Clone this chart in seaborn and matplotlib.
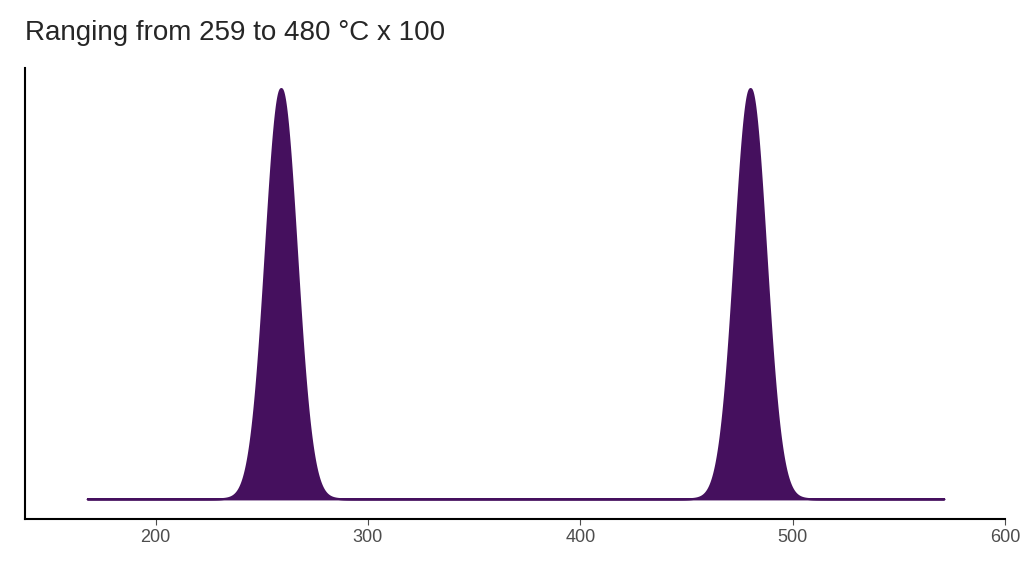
import matplotlib
matplotlib.use("Agg")
import matplotlib.pyplot as plt
import seaborn as sns
import numpy as np

values = [259, 480]
repeats = 100
title = "Ranging from 259 to 480 °C x 100"
xticks = [200, 300, 400, 500, 600]

data = np.repeat(values, repeats)
sns.set_style("white")
plt.rcParams['font.family'] = ['Liberation Sans', 'DejaVu Sans']
fig = plt.figure(figsize=(10.24, 5.76), dpi=100)
ax = fig.add_axes([25/1024, 57/576, 980/1024, (519-68)/576])
color = "#45105e"
sns.kdeplot(x=data, bw_adjust=0.19, cut=12.5, fill=True, color=color, alpha=1, linewidth=1.5, ax=ax, gridsize=2000)
ymax = ax.dataLim.ymax
ax.set_ylim(-0.049*ymax, 1.05*ymax)
ax.set_xlim(138.5, 600)
ax.set_xticks(xticks)
ax.set_yticks([])
ax.set_xlabel(""); ax.set_ylabel("")
ax.tick_params(axis='x', labelsize=13, colors="#4d4d4d", length=4, bottom=True)
for s in ["top", "right"]:
    ax.spines[s].set_visible(False)
for s in ["left", "bottom"]:
    ax.spines[s].set_color("black"); ax.spines[s].set_linewidth(1.5)
fig.text(25/1024, 1-33/576, title, fontsize=20, va="center", ha="left")
fig.savefig("out.png")
